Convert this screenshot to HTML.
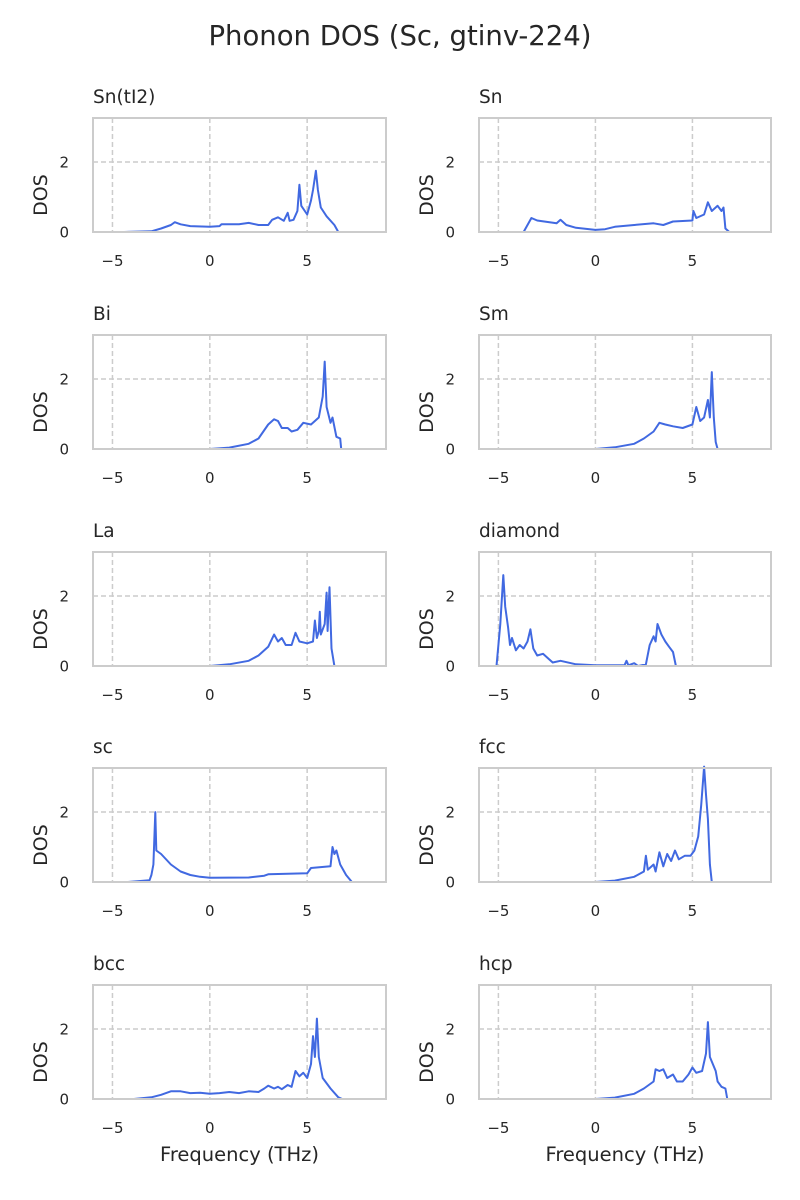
<!DOCTYPE html>
<html><head><meta charset="utf-8"><style>
body{margin:0;background:#fff;}
svg{display:block;font-family:"DejaVu Sans","Liberation Sans",sans-serif;}
</style></head><body>
<svg id="fig" width="800" height="1200" viewBox="0 0 800 1200">
<text x="400" y="45" text-anchor="middle" font-size="27.5" fill="#262626">Phonon DOS (Sc, gtinv-224)</text>
</svg>
<script>
const panelNames = ["Sn(tI2)","Sn","Bi","Sm","La","diamond","sc","fcc","bcc","hcp"];
const xTicks = [-5,0,5];
const xTickLabels = ["\u22125","0","5"];
const yTicks = [0,2];
const yTickLabels = ["0","2"];
const freqSnTI2 = [-4.4,-3,-2.5,-2,-1.8,-1.5,-1,0,0.5,0.6,1.5,2,2.5,3,3.2,3.5,3.8,4,4.1,4.3,4.5,4.6,4.7,5,5.2,5.3,5.45,5.55,5.7,6,6.4,6.6,7.2];
const dosSnTI2  = [0,0.02,0.1,0.2,0.28,0.22,0.17,0.15,0.17,0.22,0.22,0.26,0.2,0.2,0.35,0.42,0.32,0.55,0.32,0.35,0.6,1.35,0.75,0.5,0.9,1.2,1.75,1.2,0.7,0.45,0.2,0,0];
const freqSn = [-4.8,-3.7,-3.3,-3,-2,-1.8,-1.5,-1,0,0.5,1,2,3,3.5,4,5,5.05,5.2,5.6,5.8,6,6.3,6.5,6.6,6.7,6.9,7.5];
const dosSn  = [0,0,0.4,0.33,0.25,0.35,0.2,0.12,0.06,0.08,0.15,0.2,0.25,0.2,0.3,0.33,0.6,0.4,0.5,0.85,0.6,0.75,0.6,0.7,0.1,0,0];
const freqBi = [0,1,2,2.5,3,3.3,3.5,3.7,4,4.2,4.5,4.8,5.2,5.4,5.6,5.8,5.9,6,6.2,6.3,6.5,6.7,6.75,7.3];
const dosBi  = [0,0.04,0.15,0.3,0.7,0.85,0.8,0.6,0.6,0.5,0.55,0.75,0.7,0.8,0.9,1.5,2.5,1.2,0.75,0.9,0.35,0.3,0,0];
const freqSm = [0,1,2,2.5,3,3.3,3.6,4,4.5,5,5.2,5.4,5.6,5.8,5.9,6,6.1,6.2,6.3,7];
const dosSm  = [0,0.05,0.15,0.3,0.5,0.75,0.7,0.65,0.6,0.7,1.2,0.8,0.9,1.4,0.9,2.2,0.9,0.2,0,0];
const freqLa = [0,1,2,2.5,3,3.3,3.5,3.7,3.9,4.2,4.4,4.6,5,5.3,5.4,5.5,5.6,5.65,5.7,5.9,6,6.05,6.15,6.25,6.4,7];
const dosLa  = [0,0.05,0.15,0.3,0.55,0.9,0.7,0.8,0.6,0.6,0.95,0.7,0.65,0.7,1.3,0.8,1.0,1.55,0.9,1.2,2.1,1.0,2.25,0.5,0,0];
const freqDiamond = [-6,-5.1,-4.9,-4.75,-4.65,-4.5,-4.4,-4.3,-4.1,-3.9,-3.7,-3.5,-3.35,-3.2,-3,-2.7,-2.4,-2.2,-1.8,-1,0,1.5,1.6,1.7,2,2.2,2.6,2.8,3,3.1,3.2,3.4,3.6,3.8,4,4.15,5];
const dosDiamond  = [0,0,1.2,2.6,1.7,1.1,0.6,0.8,0.45,0.6,0.5,0.7,1.05,0.5,0.3,0.35,0.2,0.1,0.15,0.05,0.02,0.02,0.15,0.02,0.08,0,0.05,0.6,0.85,0.7,1.2,0.9,0.7,0.55,0.4,0,0];
const freqSc = [-4.2,-3.1,-3,-2.9,-2.8,-2.75,-2.5,-2,-1.5,-1,-0.5,0,2,2.8,3,5,5.2,6.2,6.3,6.4,6.5,6.7,7,7.3,8];
const dosSc  = [0,0.05,0.2,0.5,2.0,0.9,0.8,0.5,0.3,0.2,0.15,0.12,0.13,0.18,0.22,0.25,0.4,0.45,1.0,0.8,0.9,0.5,0.2,0,0];
const freqFcc = [0,1,2,2.5,2.6,2.7,3,3.1,3.3,3.5,3.7,3.9,4.1,4.3,4.6,4.9,5.1,5.3,5.45,5.6,5.7,5.8,5.9,6,6.5];
const dosFcc  = [0,0.04,0.15,0.3,0.75,0.35,0.5,0.3,0.85,0.45,0.8,0.6,0.9,0.65,0.75,0.75,0.9,1.3,2.2,3.3,2.5,1.8,0.5,0,0];
const freqBcc = [-3.9,-3,-2.5,-2,-1.5,-1,-0.5,0,0.5,1,1.5,2,2.5,2.8,3,3.3,3.5,3.7,4,4.2,4.4,4.6,4.8,5,5.2,5.3,5.4,5.5,5.6,5.8,6.2,6.6,6.8,7.3];
const dosBcc  = [0,0.05,0.12,0.22,0.22,0.17,0.18,0.15,0.17,0.2,0.17,0.22,0.2,0.3,0.38,0.3,0.35,0.28,0.4,0.35,0.8,0.65,0.75,0.6,1.0,1.8,1.2,2.3,1.2,0.6,0.3,0.05,0,0];
const freqHcp = [0,1,2,2.5,3,3.1,3.3,3.5,3.7,4,4.2,4.5,4.8,5,5.2,5.5,5.7,5.8,5.9,6.2,6.3,6.5,6.7,6.8,7.4];
const dosHcp  = [0,0.04,0.15,0.3,0.5,0.85,0.8,0.85,0.6,0.7,0.5,0.5,0.7,0.9,0.75,0.8,1.3,2.2,1.2,0.8,0.5,0.35,0.3,0,0];
const allFreq = [freqSnTI2,freqSn,freqBi,freqSm,freqLa,freqDiamond,freqSc,freqFcc,freqBcc,freqHcp];
const allDos = [dosSnTI2,dosSn,dosBi,dosSm,dosLa,dosDiamond,dosSc,dosFcc,dosBcc,dosHcp];

const NS="http://www.w3.org/2000/svg";
const svg=document.getElementById('fig');
function mk(tag,attrs,parent){const e=document.createElementNS(NS,tag);for(const k in attrs)e.setAttribute(k,attrs[k]);(parent||svg).appendChild(e);return e;}
const colL=[93,386],colR=[479,771];
const rowTops=[118,335,552,768,985];
const H=114, xMin=-6.0, xMax=9.05, yMax=3.26;
panelNames.forEach((name,i)=>{
  const col=i%2, row=Math.floor(i/2);
  const [x0,x1]=col===0?colL:colR;
  const top=rowTops[row], bot=top+H;
  const sx=f=>x0+(f-xMin)/(xMax-xMin)*(x1-x0);
  const sy=v=>bot-v/yMax*H;
  const g=mk('g',{});
  
  
  xTicks.forEach((t,k)=>{
    const l=mk('line',{x1:sx(t),x2:sx(t),y1:top,y2:bot,stroke:'#cccccc','stroke-width':1.5,'stroke-dasharray':'5,3'},g);
    
    
    const tx=mk('text',{x:sx(t),y:bot+34,'text-anchor':'middle','font-size':15,fill:'#262626'},g);
    tx.textContent=xTickLabels[k];
    
    
  });
  yTicks.forEach((t,k)=>{
    if(t>0){const l=mk('line',{x1:x0,x2:x1,y1:sy(t),y2:sy(t),stroke:'#cccccc','stroke-width':1.5,'stroke-dasharray':'5,3'},g);
    
    }
    const tx=mk('text',{x:x0-24,y:sy(t)+5.5,'text-anchor':'end','font-size':15,fill:'#262626'},g);
    tx.textContent=yTickLabels[k];
    
    
  });
  const fr=allFreq[i], ds=allDos[i];
  const pts=fr.map((f,k)=>sx(f).toFixed(1)+','+sy(ds[k]).toFixed(1)).join(' ');
  const pl=mk('polyline',{points:pts,fill:'none',stroke:'#4169e1','stroke-width':2,'stroke-linejoin':'round'},g);
  
  
  const fr2=mk('rect',{x:x0,y:top,width:x1-x0,height:H,fill:'none',stroke:'#cccccc','stroke-width':2},g);
  
  
  const tt=mk('text',{x:x0,y:top-15,'font-size':18.5,fill:'#262626'},g);
  tt.textContent=name;
  
  
  const yl=mk('text',{x:0,y:0,'font-size':19,fill:'#262626','text-anchor':'middle',transform:`translate(${x0-46},${top+H/2+20}) rotate(-90)`},g);
  yl.textContent='DOS';
  
  
  if(row===4){
    const xl=mk('text',{x:(x0+x1)/2,y:1161,'font-size':19.5,fill:'#262626','text-anchor':'middle'},g);
    xl.textContent='Frequency (THz)';
    
    
  }
});
</script>
</body></html>
